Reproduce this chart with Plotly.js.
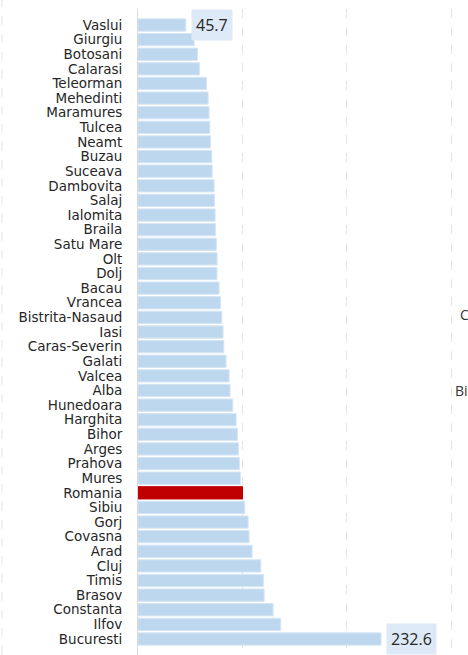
<!DOCTYPE html>
<html><head><meta charset="utf-8">
<script src="https://cdn.plot.ly/plotly-3.0.1.min.js"></script>
<style>html,body{margin:0;padding:0;background:#fff;}#chart{width:468px;height:655px;}</style>
</head><body><div id="chart"></div>
<script>
const counties = ["Vaslui","Giurgiu","Botosani","Calarasi","Teleorman","Mehedinti","Maramures","Tulcea","Neamt","Buzau","Suceava","Dambovita","Salaj","Ialomita","Braila","Satu Mare","Olt","Dolj","Bacau","Vrancea","Bistrita-Nasaud","Iasi","Caras-Severin","Galati","Valcea","Alba","Hunedoara","Harghita","Bihor","Arges","Prahova","Mures","Romania","Sibiu","Gorj","Covasna","Arad","Cluj","Timis","Brasov","Constanta","Ilfov","Bucuresti"];
const values = [45.7,53.7,56.9,58.8,65.5,67.1,68.0,68.7,69.3,70.6,71.0,72.8,73.1,73.8,74.1,75.0,75.7,75.6,77.6,78.9,80.2,81.4,82.1,84.3,87.2,88.1,90.7,93.9,95.1,96.1,97.0,98.0,100.0,102.2,105.4,106.3,109.2,117.5,120.0,120.7,129.3,136.6,232.6];
const highlight = "Romania";
const labelled = ["Vaslui","Bucuresti"];
const sideTexts = ["C","Bi"];

const colors = counties.map(c => c === highlight ? "#c00000" : "#bdd7ee");
const lineColors = counties.map(c => c === highlight ? "#c00000" : "#d6e6f5");

const annotations = labelled.map(name => {
  const i = counties.indexOf(name);
  return {x: values[i], y: name, xref: "x", yref: "y", text: values[i].toFixed(1),
    showarrow: false, xanchor: "left", xshift: 5, bgcolor: "#dde9f6", borderpad: 4,
    font: {family: "Open Sans, sans-serif", size: 16, color: "#262626"}};
});
annotations.push({x: 1.0, y: 0.527, xref: "paper", yref: "paper", text: sideTexts[0], showarrow: false, xanchor: "left", xshift: -10, font: {family: "Open Sans, sans-serif", size: 14, color: "#333"}});
annotations.push({x: 1.0, y: 0.410, xref: "paper", yref: "paper", text: sideTexts[1], showarrow: false, xanchor: "left", xshift: -15, font: {family: "Open Sans, sans-serif", size: 14, color: "#333"}});

const trace = {type: "bar", orientation: "h", x: values, y: counties,
  marker: {color: colors, line: {color: lineColors, width: 1}}, hoverinfo: "none"};

const layout = {
  width: 468, height: 655, margin: {l: 138, r: 0, t: 9, b: 0},
  paper_bgcolor: "#fff", plot_bgcolor: "#fff", bargap: 0.16, showlegend: false,
  xaxis: {range: [0, 315.8], dtick: 100, tick0: 0, showticklabels: false, ticks: "",
    showgrid: true, gridcolor: "#e4e4e4", griddash: "dash", gridwidth: 1,
    zeroline: false, showline: false, fixedrange: true},
  yaxis: {autorange: "reversed", type: "category", tickmode: "array", tickvals: counties, ticktext: counties,
    showgrid: false, zeroline: false,
    showline: true, linecolor: "#d9d9d9", linewidth: 1, ticks: "", ticklabelstandoff: 12,
    tickfont: {family: "DejaVu Sans, sans-serif", size: 13.5, color: "#262626"}},
  shapes: [{type: "line", xref: "paper", yref: "paper", x0: -0.412, x1: -0.412, y0: 0, y1: 1.02,
    line: {color: "#e4e4e4", width: 1, dash: "dash"}}],
  annotations: annotations
};
Plotly.newPlot("chart", [trace], layout, {displayModeBar: false, staticPlot: true});
</script></body></html>
